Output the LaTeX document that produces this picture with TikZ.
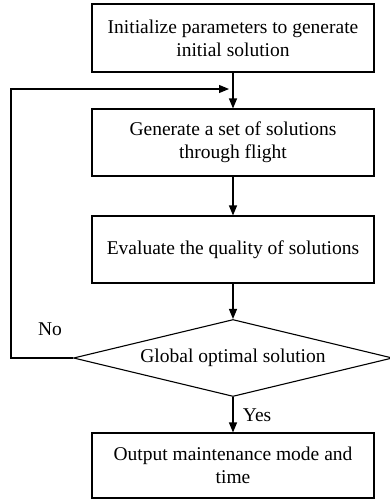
\documentclass[tikz,border=0pt]{standalone}
\usepackage{fontspec}
\setmainfont{Liberation Serif}
\usetikzlibrary{shapes.geometric,arrows.meta,positioning}

\begin{document}
\begin{tikzpicture}[x=1pt,y=-1pt,every node/.style={font=\fontsize{19.5}{23}\selectfont},
		line width=1.1pt,
		procbox/.style={rectangle, draw, minimum width=282pt, align=center, inner sep=0pt},
		decision/.style={diamond, draw, aspect=4.14, inner sep=0pt, minimum width=319pt, minimum height=77pt},
		>={Triangle[length=10pt,width=8pt]}]
					\useasboundingbox (0,0) rectangle (389,501);
					\node[procbox, minimum height=68pt] (init) at (233,38) {Initialize parameters to generate\\initial solution};
					\node[procbox, minimum height=67pt] (gen) at (233,142.5) {Generate a set of solutions\\through flight};
					\node[procbox, minimum height=67pt] (eval) at (233,249.5) {Evaluate the quality of solutions};
					\node[decision] (glob) at (233,358) {Global optimal solution};
					\node[procbox, minimum height=65pt] (out) at (233,465.5) {Output maintenance mode and\\time};
					\coordinate (loopa) at (11,358);
					\coordinate (loopb) at (11,89);
					\coordinate (merge) at (229,89);
					\draw[->] (init) -- (gen);
					\draw[->] (gen) -- (eval);
					\draw[->] (eval) -- (glob);
					\draw[->] (glob) -- node[right=6pt] {Yes} (out);
					\draw[->] (glob.west) -- (loopa) -- (loopb) -- (merge);
					\node (no) at (50,329) {No};
				\end{tikzpicture}
\end{document}
